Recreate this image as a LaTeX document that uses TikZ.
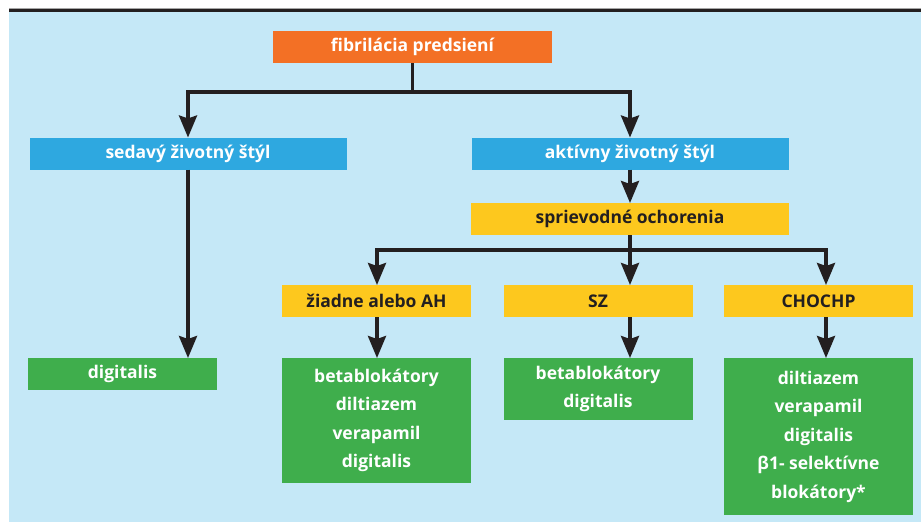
\documentclass[tikz,border=0pt]{standalone}
\usepackage{fontspec}
\setmainfont{Open Sans}
\usetikzlibrary{arrows.meta, calc}

\definecolor{bgblue}{HTML}{C5E8F7}
\definecolor{fporange}{HTML}{F37025}
\definecolor{stylblue}{HTML}{2EA8E0}
\definecolor{diagyellow}{HTML}{FDC81E}
\definecolor{liekgreen}{HTML}{3FAE4C}
\definecolor{darkline}{HTML}{231F20}

\tikzset{
    box/.style={inner sep=0pt, outer sep=0pt, minimum height=32pt, align=center,
        font=\bfseries\fontsize{17.5}{28.5}\selectfont},
    orbox/.style={box, fill=fporange, text=white},
    bluebox/.style={box, fill=stylblue, text=white, minimum width=317pt},
    yelbox/.style={box, fill=diagyellow, text=darkline, minimum width=189pt},
    grbox/.style={box, fill=liekgreen, text=white, minimum width=189pt},
    arr/.style={draw=darkline, line width=3.5pt,
        -{Stealth[length=22pt, width=18pt, inset=3pt]}},
}

\begin{document}
\begin{tikzpicture}[x=1pt, y=-1pt]
        \useasboundingbox (0,0) rectangle (921,522);
        \fill[bgblue] (9,12) rectangle (921,522);
        \fill[darkline] (9,9) rectangle (921,12);
        \draw[gray!70, line width=1pt] (9,8) -- (921,8);

        \node[orbox, minimum width=279pt] (fp) at (412.5,47) {fibrilácia predsiení};
        \node[bluebox] (sed) at (188,153.5) {sedavý životný štýl};
        \node[bluebox] (akt) at (630,153.5) {aktívny životný štýl};
        \node[yelbox, minimum width=318pt] (spr) at (630,219) {sprievodné ochorenia};

        \node[yelbox] (ziad) at (376.5,301) {žiadne alebo AH};
        \node[yelbox] (sz) at (598,301) {SZ};
        \node[yelbox] (chochp) at (818.5,301) {CHOCHP};

        \node[grbox] (dig) at (122.5,374) {digitalis};
        \node[grbox, minimum height=125pt] (beta) at (376.5,420.5)
            {betablokátory\\diltiazem\\verapamil\\digitalis};
        \node[grbox, minimum height=62pt] (szlieky) at (598,389) {betablokátory\\digitalis};
        \node[grbox, minimum height=157pt] (chlieky) at (818.5,436.5)
            {diltiazem\\verapamil\\digitalis\\β1- selektívne\\blokátory*};

        \coordinate (b1) at (377,250);
        \coordinate (b2) at (630,250);
        \coordinate (b3) at (826,250);

        \draw[arr] (fp.south) -- ++(0,29) -| (sed.north);
        \draw[arr] (fp.south) -- ++(0,29) -| (akt.north);
        \draw[arr] (sed.south) -- (sed.south |- dig.north);
        \draw[arr] (akt.south) -- (spr.north);

        \draw[arr] (spr.south) |- (b1) -- (b1 |- ziad.north);
        \draw[arr] (spr.south) |- (b3) -- (b3 |- chochp.north);
        \draw[arr] (spr.south) -- (b2 |- sz.north);

        \foreach \d/\l/\c in {ziad/beta/b1, sz/szlieky/b2, chochp/chlieky/b3} {
            \draw[arr] (\c |- \d.south) -- (\c |- \l.north);
        }
    \end{tikzpicture}
\end{document}
